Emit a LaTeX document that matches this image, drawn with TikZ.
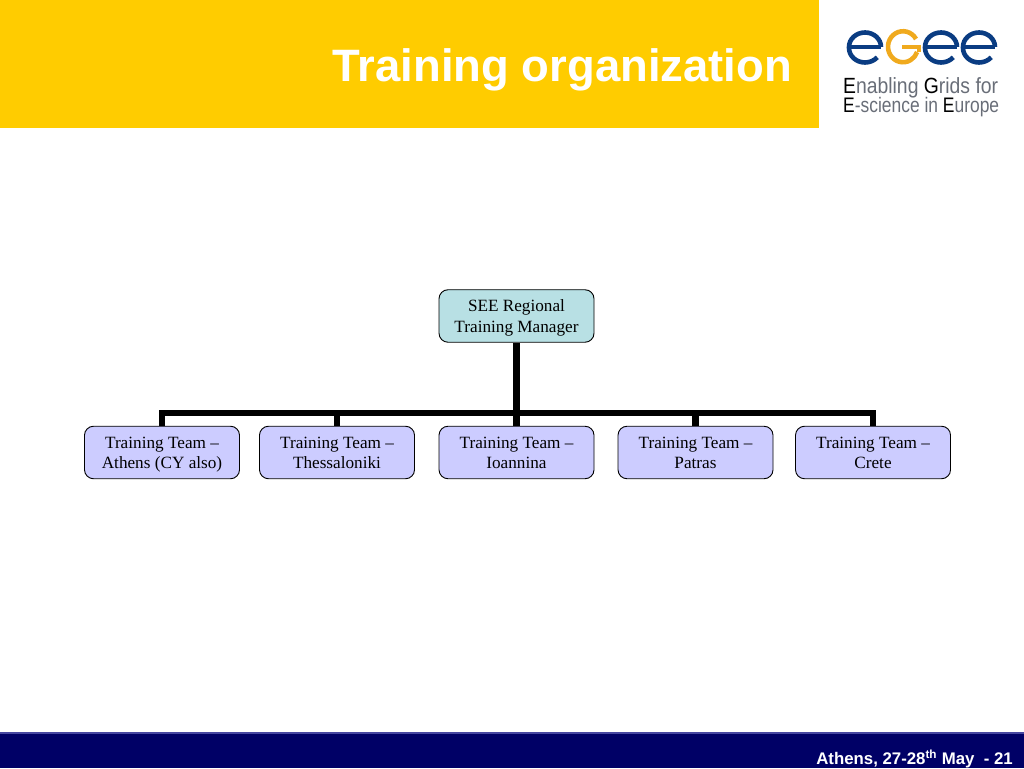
\documentclass[tikz,border=0pt]{standalone}
\usepackage{fontspec}
\setmainfont{Liberation Serif}
\newfontfamily\headfont{Liberation Sans}
\definecolor{mgold}{RGB}{255, 204, 0}
\definecolor{mnavy}{RGB}{0, 0, 102}
\definecolor{mrule}{RGB}{70, 70, 160}
\definecolor{mteal}{RGB}{184, 224, 228}
\definecolor{mlilac}{RGB}{204, 204, 255}
\definecolor{mlogo}{RGB}{10, 60, 130}
\definecolor{mamber}{RGB}{240, 170, 30}
\definecolor{mgrey}{RGB}{105, 110, 120}
\newcommand{\boxlines}[2]{\rule[-4pt]{0pt}{20pt}#1\\\rule[-4pt]{0pt}{20pt}#2}
\tikzset{orgbox/.style = {draw, line width = 0.9, rounded corners = 9, minimum width = 155, minimum height = 52.5, inner sep = 0, align = center, font = \fontsize{17.2}{20.5}\selectfont},
  link/.style = {line width = 6.5, line cap = butt},
  logoe/.style = {line width = 4.6, line cap = butt}}
\begin{document}
\begin{tikzpicture}[x=1pt, y=1pt]
    \useasboundingbox (0, 0) rectangle (1024, 768);
    \fill [white] (0, 0) rectangle (1024, 768);
    \fill [mgold] (0, 640) rectangle (819, 768);
    \fill [mnavy] (0, 0) rectangle (1024, 35);
    \fill [mrule] (0, 34) rectangle (1024, 36);
    \node [anchor = east, text = white, inner sep = 0, font = \headfont\bfseries\fontsize{45.4}{50}\selectfont] (title) at (792, 698) {Training organization};
    \node [anchor = east, text = white, inner sep = 0, font = \headfont\bfseries\fontsize{16.8}{18}\selectfont] (footer) at (1013, 9) {Athens, 27-28\textsuperscript{th} May\ \ - 21};
    % logo
    \foreach \cx/\col in {865/mlogo, 941/mlogo, 979/mlogo} {
      \draw [logoe, color = \col] (\cx + 16, 721) arc (0:180:16 and 14.5) -- (\cx - 16, 720) arc (180:320:16 and 14.5);
      \draw [logoe, color = \col] (\cx - 16, 721) -- (\cx + 16, 721);
    }
    \draw [logoe, color = mamber] (916, 729) arc (30:340:15 and 15.5);
    \draw [logoe, color = mamber] (902, 721) -- (919, 721) -- (919, 716);
    \node [anchor = west, inner sep = 0, xscale = 0.88, text = mgrey, font = \headfont\fontsize{22}{24}\selectfont] (logoa) at (843, 680.5) {\textcolor{black}{E}nabling \textcolor{black}{G}rids for};
    \node [anchor = west, inner sep = 0, xscale = 0.83, text = mgrey, font = \headfont\fontsize{21}{24}\selectfont] (logob) at (843, 661) {\textcolor{black}{E}-science in \textcolor{black}{E}urope};
    % chart
    \node [orgbox, fill = mteal] (mgr) at (516.5, 452) {\boxlines{SEE Regional}{Training Manager}};
    \node [orgbox, fill = mlilac] (athens) at (162, 315.5) {\boxlines{Training Team --}{Athens (CY also)}};
    \node [orgbox, fill = mlilac] (thess) at (337, 315.5) {\boxlines{Training Team --}{Thessaloniki}};
    \node [orgbox, fill = mlilac] (ioann) at (516.5, 315.5) {\boxlines{Training Team --}{Ioannina}};
    \node [orgbox, fill = mlilac] (patras) at (695.5, 315.5) {\boxlines{Training Team --}{Patras}};
    \node [orgbox, fill = mlilac] (crete) at (873, 315.5) {\boxlines{Training Team --}{Crete}};
    \coordinate (bus) at (516.5, 355);
    \draw [link] (mgr) -- (ioann);
    \draw [link, line join = miter] (athens.north) |- (bus) -| (crete.north);
    \draw [link] (thess.north) -- (thess.north |- bus);
    \draw [link] (patras.north) -- (patras.north |- bus);
  \end{tikzpicture}
\end{document}
